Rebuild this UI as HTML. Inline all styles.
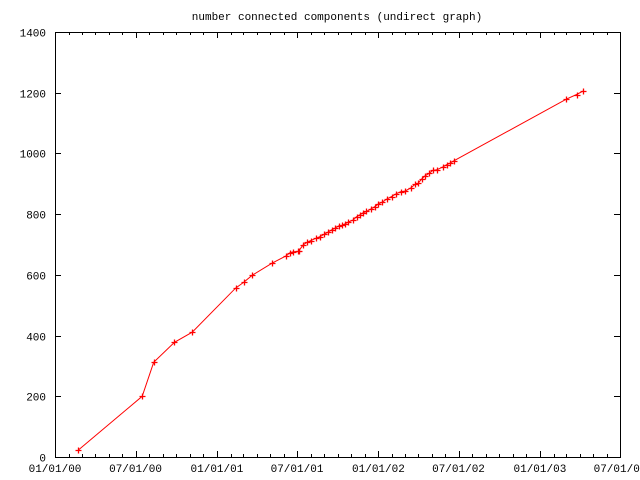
<!DOCTYPE html>
<html><head><meta charset="utf-8"><style>
html,body{margin:0;padding:0;background:#fff}
svg{display:block}
text{font-family:"Liberation Mono",monospace;font-size:11px;fill:#000}
</style></head><body>
<svg id="chart" width="640" height="480" xmlns="http://www.w3.org/2000/svg">
<text x="337" y="20" text-anchor="middle">number connected components (undirect graph)</text>
<g id="axes"></g>
<g id="series"></g>
</svg>
<script>
// days since 2000-01-01
const days=[53,197,223,270,310,408,427,446,490,523,531,539,550,
551,561,569,578,589,599,609,618,625,633,642,648,655,663,674,682,689,697,704,714,723,731,740,750,761,771,781,791,804,814,821,829,836,846,854,863,876,885,893,902,1156,1179,1194];
const values=[23,200,312,378,411,556,576,599,638,663,673,676,677,
679,699,707,713,720,726,734,742,748,754,762,763,768,774,781,792,798,805,809,817,825,834,840,850,858,867,874,876,886,898,902,916,926,935,944,946,955,963,968,976,1179,1194,1206];
const yTicks=[0,200,400,600,800,1000,1200,1400];
const xTickLabels=["01/01/00","07/01/00","01/01/01","07/01/01","01/01/02","07/01/02","01/01/03","07/01/03"];
const xTickDays=[0,182,366,547,731,912,1096,1277];

const L=55,R=620,T=32,B=457,DMAX=1277,YMAX=1400;
const sx=d=>L+d/DMAX*(R-L);
const sy=v=>B-v/YMAX*(B-T);
const NS="http://www.w3.org/2000/svg";
function mk(tag,attrs,parent){const e=document.createElementNS(NS,tag);for(const k in attrs)e.setAttribute(k,attrs[k]);parent.appendChild(e);return e;}
const axes=document.getElementById('axes'),series=document.getElementById('series');
const frame=mk('rect',{x:L+.5,y:T+.5,width:R-L,height:B-T,fill:'none',stroke:'#000','stroke-width':1},axes);


yTicks.forEach(v=>{
  const y=Math.round(sy(v))+.5;
  const t=mk('path',{d:`M${L} ${y}h6M${R} ${y}h-6`,stroke:'#000'},axes);
  
  
  const lb=mk('text',{x:L-9,y:y+4,'text-anchor':'end'},axes);lb.textContent=v;
  
  
});
// monthly minor ticks
for(let m=0;m<=42;m++){
  const d=(Date.UTC(2000,m,1)-Date.UTC(2000,0,1))/864e5;
  const x=Math.round(sx(d))+.5;
  const major=(m%6===0);
  const t=mk('path',{d:`M${x} ${B}v${major?-6:-3}M${x} ${T}v${major?6:3}`,stroke:'#000'},axes);
  
  
}
xTickLabels.forEach((s,i)=>{
  const lb=mk('text',{x:sx(xTickDays[i]),y:B+15,'text-anchor':'middle'},axes);lb.textContent=s;
  
  
});
const pts=days.map((d,i)=>[sx(d),sy(values[i])]);
const line=mk('polyline',{points:pts.map(p=>p[0].toFixed(1)+','+p[1].toFixed(1)).join(' '),fill:'none',stroke:'#f00','stroke-width':1},series);


pts.forEach(p=>{
  const x=Math.round(p[0])+.5,y=Math.round(p[1])+.5;
  const m=mk('path',{d:`M${x-3} ${y}h6M${x} ${y-3}v6`,stroke:'#f00','stroke-width':1.3},series);
  
  
});
</script>
</body></html>
